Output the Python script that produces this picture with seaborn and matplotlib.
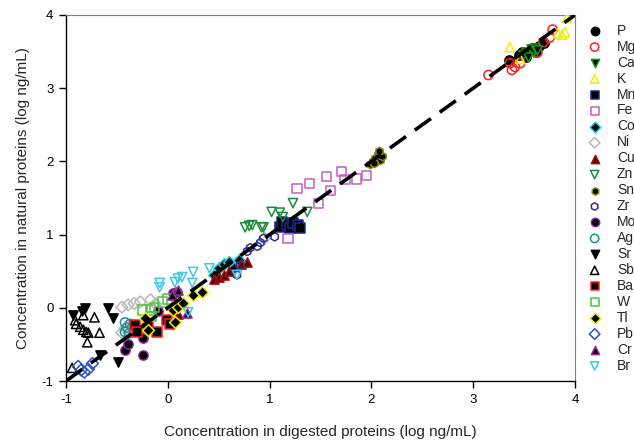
import matplotlib
matplotlib.use("Agg")
import matplotlib.pyplot as plt
import seaborn as sns
import pandas as pd

sns.set_style("ticks")
plt.rcParams['font.family'] = ['Liberation Sans', 'DejaVu Sans']
plt.rcParams['axes.unicode_minus'] = False

# ---- data (log ng/mL): digested (x) vs natural (y) ----
P_x = [3.35, 3.45, 3.52, 3.58, 3.65, 3.70, 3.48, 3.62]
P_y = [3.38, 3.45, 3.42, 3.55, 3.58, 3.62, 3.50, 3.50]
Mg_x = [3.15, 3.36, 3.38, 3.41, 3.46, 3.63, 3.69, 3.75, 3.78]
Mg_y = [3.18, 3.34, 3.25, 3.29, 3.34, 3.49, 3.63, 3.69, 3.80]
Ca_x = [3.49, 3.52, 3.55, 3.57, 3.59, 3.61, 3.63, 3.54]
Ca_y = [3.45, 3.50, 3.47, 3.53, 3.49, 3.55, 3.52, 3.43]
K_x = [3.36, 3.46, 3.83, 3.87, 3.90, 3.92]
K_y = [3.56, 3.40, 3.75, 3.73, 3.77, 3.96]
Mn_x = [1.10, 1.12, 1.17, 1.20, 1.23, 1.28, 1.30]
Mn_y = [1.10, 1.17, 1.13, 1.09, 1.16, 1.13, 1.09]
Fe_x = [1.27, 1.39, 1.56, 1.71, 1.74, 1.85, 1.95, 1.60, 1.48, 1.18]
Fe_y = [1.63, 1.70, 1.79, 1.86, 1.75, 1.76, 1.81, 1.60, 1.42, 0.95]
Co_x = [0.45, 0.50, 0.55, 0.60, 0.70, 0.65]
Co_y = [0.45, 0.55, 0.60, 0.62, 0.65, 0.55]
Ni_x = [-0.45, -0.39, -0.33, -0.27, -0.17, -0.12, -0.45, -0.42, 0.05, 0.95]
Ni_y = [0.01, 0.04, 0.06, 0.08, 0.11, 0.05, -0.34, -0.28, -0.21, 0.95]
Cu_x = [0.45, 0.50, 0.55, 0.60, 0.72, 0.78, 0.10]
Cu_y = [0.40, 0.42, 0.45, 0.50, 0.60, 0.62, -0.08]
Zn_x = [1.02, 1.10, 1.13, 1.23, 1.37, 0.94, 0.83, 0.76, 0.80, 0.92]
Zn_y = [1.31, 1.30, 1.24, 1.43, 1.31, 1.10, 1.13, 1.10, 1.12, 1.10]
Sn_x = [1.99, 2.02, 2.04, 2.06, 2.08, 2.10, 2.03, 2.07]
Sn_y = [1.96, 2.00, 2.05, 2.10, 2.02, 2.07, 1.98, 2.14]
Zr_x = [0.78, 0.81, 0.68, 0.91, 0.94, 0.71, 1.05, 0.88]
Zr_y = [0.77, 0.82, 0.45, 0.89, 0.95, 0.58, 0.97, 0.84]
Mo_x = [-0.42, -0.39, -0.24, -0.24, 0.05, 0.09, -0.10]
Mo_y = [-0.58, -0.49, -0.41, -0.65, 0.20, 0.21, -0.05]
Ag_x = [-0.42, -0.40, -0.38, -0.42, -0.37]
Ag_y = [-0.20, -0.27, -0.35, -0.33, -0.22]
Sr_x = [-0.93, -0.81, -0.84, -0.59, -0.54, -0.67, -0.49]
Sr_y = [-0.10, 0.00, -0.05, 0.00, -0.14, -0.64, -0.74]
Sb_x = [-0.91, -0.90, -0.83, -0.86, -0.83, -0.78, -0.79, -0.72, -0.67, -0.80, -0.94]
Sb_y = [-0.17, -0.22, -0.10, -0.26, -0.30, -0.34, -0.47, -0.13, -0.34, -0.33, -0.82]
Ba_x = [-0.32, -0.30, -0.19, -0.11, -0.01, 0.02]
Ba_y = [-0.24, -0.33, -0.26, -0.33, -0.17, -0.22]
W_x = [-0.25, -0.17, -0.16, -0.13, -0.05, 0.00]
W_y = [-0.03, -0.03, -0.12, 0.00, 0.08, 0.12]
Tl_x = [-0.22, -0.19, 0.07, 0.05, 0.10, 0.15, 0.25, 0.34]
Tl_y = [-0.14, -0.30, -0.19, -0.03, 0.01, 0.07, 0.17, 0.22]
Pb_x = [-0.88, -0.85, -0.82, -0.78, -0.74]
Pb_y = [-0.80, -0.85, -0.88, -0.84, -0.76]
Cr_x = [0.07, 0.04, 0.19, 0.10]
Cr_y = [0.22, 0.17, -0.07, 0.25]
Br_x = [-0.08, 0.07, 0.10, 0.25, 0.41, 0.24, 0.68, 0.20, -0.08, 0.14]
Br_y = [0.34, 0.35, 0.40, 0.49, 0.54, 0.34, 0.45, -0.06, 0.28, 0.42]

elements = ["P", "Mg", "Ca", "K", "Mn", "Fe", "Co", "Ni", "Cu", "Zn", "Sn",
            "Zr", "Mo", "Ag", "Sr", "Sb", "Ba", "W", "Tl", "Pb", "Cr", "Br"]
xs = [P_x, Mg_x, Ca_x, K_x, Mn_x, Fe_x, Co_x, Ni_x, Cu_x, Zn_x, Sn_x,
      Zr_x, Mo_x, Ag_x, Sr_x, Sb_x, Ba_x, W_x, Tl_x, Pb_x, Cr_x, Br_x]
ys = [P_y, Mg_y, Ca_y, K_y, Mn_y, Fe_y, Co_y, Ni_y, Cu_y, Zn_y, Sn_y,
      Zr_y, Mo_y, Ag_y, Sr_y, Sb_y, Ba_y, W_y, Tl_y, Pb_y, Cr_y, Br_y]

# marker, face, edge
styles = {
    "P":  ("o", "black", "black"),
    "Mg": ("o", "none", "#ff2020"),
    "Ca": ("v", "black", "#1a9a1a"),
    "K":  ("^", "none", "#f0f000"),
    "Mn": ("s", "black", "#1a2a8a"),
    "Fe": ("s", "none", "#c060c0"),
    "Co": ("D", "black", "#20d0e0"),
    "Ni": ("D", "none", "#b8b8b8"),
    "Cu": ("^", "#500000", "#a01010"),
    "Zn": ("v", "none", "#1a8a3a"),
    "Sn": ("h", "black", "#8a8a10"),
    "Zr": ("h", "none", "#30309a"),
    "Mo": ("o", "black", "#8a20a0"),
    "Ag": ("o", "none", "#209090"),
    "Sr": ("v", "black", "black"),
    "Sb": ("^", "none", "black"),
    "Ba": ("s", "black", "#ff2020"),
    "W":  ("s", "none", "#50c040"),
    "Tl": ("D", "black", "#f0f000"),
    "Pb": ("D", "none", "#3050c0"),
    "Cr": ("^", "black", "#9a30a0"),
    "Br": ("v", "none", "#40c8e8"),
}

fig = plt.figure(figsize=(6.34, 4.40), dpi=100)
ax = fig.add_axes([0.104, 0.134, 0.803, 0.832])

for name, x, y in zip(elements, xs, ys):
    m, fc, ec = styles[name]
    df = pd.DataFrame({"x": x, "y": y})
    size = 36 if m in ("D", "h") else 44
    sns.scatterplot(data=df, x="x", y="y", marker=m, s=size, facecolor=fc,
                    edgecolor=ec, linewidth=1.1, ax=ax, label=name, zorder=3)

line = pd.DataFrame({"x": [-1, 4], "y": [-1, 4]})
sns.lineplot(data=line, x="x", y="y", color="black", linewidth=2.6,
             dashes=False, ax=ax, zorder=5, legend=False)
ax.lines[-1].set_dashes((5.5, 3.0))

ax.set_xlim(-1, 4)
ax.set_ylim(-1, 4)
ax.set_xticks([-1, 0, 1, 2, 3, 4])
ax.set_yticks([-1, 0, 1, 2, 3, 4])
ax.tick_params(axis="both", direction="out", length=5, width=1, labelsize=9.5,
               colors="black", pad=4)
for s in ["top", "right"]:
    ax.spines[s].set_visible(True)
    ax.spines[s].set_color("#808080")
for s in ["left", "bottom"]:
    ax.spines[s].set_color("black")
    ax.spines[s].set_linewidth(1.0)

ax.set_xlabel("Concentration in digested proteins (log ng/mL)", fontsize=11, labelpad=14)
ax.set_ylabel("Concentration in natural proteins (log ng/mL)", fontsize=11, labelpad=8)

handles, labels = ax.get_legend_handles_labels()
ax.legend(handles, labels, loc="upper left", bbox_to_anchor=(0.927, 0.946),
          bbox_transform=fig.transFigure, frameon=False, fontsize=10,
          handlelength=1.0, handletextpad=1.1, labelspacing=0.14,
          borderpad=0, borderaxespad=0, markerscale=0.9)

fig.savefig("out.png", dpi=100)
